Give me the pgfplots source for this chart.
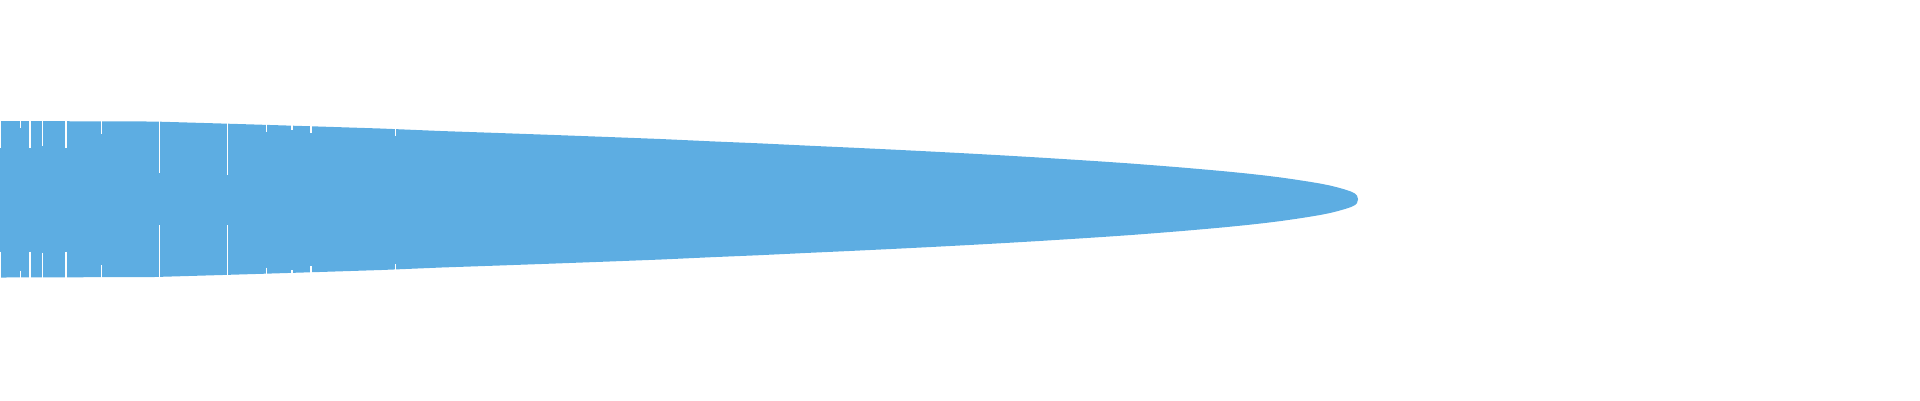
\documentclass[border=0pt]{standalone}
\usepackage{pgfplots}
\pgfplotsset{compat=1.18}
\definecolor{funnel}{HTML}{5DADE2}
\begin{document}
\begin{tikzpicture}
\useasboundingbox (0,0) rectangle (19.2cm,4cm);
\begin{axis}[at={(0,0)}, anchor=south west, scale only axis,
  width=19.2cm, height=4cm,
  xmin=0, xmax=1920, ymin=0, ymax=400, y dir=reverse,
  axis lines=none, clip=true]
% upper edge left to right, then lower edge right to left
\addplot[fill=funnel, draw=none] coordinates {
 (0,121.0) (154,121.5) (188,122.5) (222,123.5) (255,124.5) (287,125.5)
 (319,126.5) (350,127.5) (381,128.5) (441,131.0) (499,133.0) (555,135.0)
 (609,137.0) (661,139.0) (711,141.3) (759,143.3) (805,145.5) (849,147.5)
 (891,149.5) (931,151.5) (969,153.5) (1005,155.5) (1039,157.5) (1071,159.5)
 (1102,161.5) (1131,163.5) (1157,165.5) (1182,167.5) (1205,169.5) (1227,171.5)
 (1247,173.5) (1265,175.5) (1281,177.5) (1295,179.5) (1308,181.5) (1320,183.5)
 (1330,185.5) (1338,187.5) (1345,189.5) (1351,191.5) (1355,193.5) (1357,195.5)
 (1358,199.2)
 (1357,203.0) (1355,205.0) (1351,207.0) (1345,209.0) (1338,211.0) (1330,213.0)
 (1320,215.0) (1308,217.0) (1295,219.0) (1281,221.0) (1265,223.0) (1247,225.0)
 (1227,227.0) (1205,229.0) (1182,231.0) (1157,233.0) (1131,235.0) (1102,237.0)
 (1071,239.0) (1039,241.0) (1005,243.0) (969,245.0) (931,247.0) (891,249.0)
 (849,251.0) (805,253.0) (759,255.2) (711,257.2) (661,259.5) (609,261.5)
 (555,263.5) (499,265.5) (441,267.5) (381,270.0) (350,271.0) (319,272.0)
 (287,273.0) (255,274.0) (222,275.0) (188,276.0) (154,277.0) (0,277.5)
} -- cycle;
% thin white seams
\addplot[white, line width=0.3pt] coordinates {(0.5,120) (0.5,147.7)};
\addplot[white, line width=0.3pt] coordinates {(0.5,251.7) (0.5,279)};
\addplot[white, line width=0.3pt] coordinates {(20.5,120) (20.5,127.7)};
\addplot[white, line width=0.3pt] coordinates {(20.5,270.7) (20.5,279)};
\addplot[white, line width=0.45pt] coordinates {(29.8,120) (29.8,147.7)};
\addplot[white, line width=0.45pt] coordinates {(29.8,251.7) (29.8,279)};
\addplot[white, line width=0.3pt] coordinates {(42.2,120) (42.2,145.7)};
\addplot[white, line width=0.3pt] coordinates {(42.2,252.7) (42.2,279)};
\addplot[white, line width=0.4pt] coordinates {(66,120) (66,147.7)};
\addplot[white, line width=0.4pt] coordinates {(66,251.7) (66,279)};
\addplot[white, line width=0.4pt] coordinates {(101.7,120) (101.7,134)};
\addplot[white, line width=0.4pt] coordinates {(101.7,265) (101.7,279)};
\addplot[white, line width=0.3pt] coordinates {(159.5,120) (159.5,173.3)};
\addplot[white, line width=0.3pt] coordinates {(159.5,225) (159.5,279)};
\addplot[white, line width=0.3pt] coordinates {(227.5,120) (227.5,175)};
\addplot[white, line width=0.3pt] coordinates {(227.5,225) (227.5,279)};
\addplot[white, line width=0.3pt] coordinates {(266.5,120) (266.5,131.7)};
\addplot[white, line width=0.3pt] coordinates {(266.5,267.7) (266.5,279)};
\addplot[white, line width=0.3pt] coordinates {(292,120) (292,130)};
\addplot[white, line width=0.3pt] coordinates {(292,270) (292,279)};
\addplot[white, line width=0.3pt] coordinates {(311,120) (311,132.7)};
\addplot[white, line width=0.3pt] coordinates {(311,266) (311,279)};
\addplot[white, line width=0.3pt] coordinates {(395.5,120) (395.5,136)};
\addplot[white, line width=0.3pt] coordinates {(395.5,264) (395.5,279)};
\end{axis}
\end{tikzpicture}
\end{document}
